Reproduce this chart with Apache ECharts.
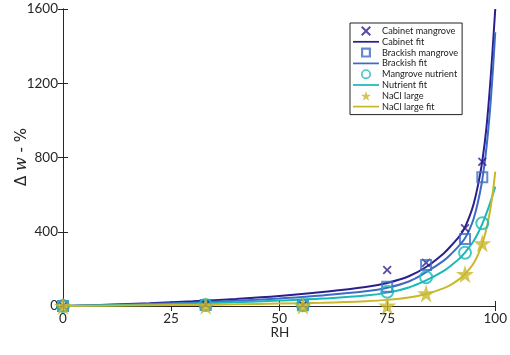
<!DOCTYPE html>
<html>
<head>
<meta charset="utf-8">
<script src="https://cdn.jsdelivr.net/npm/echarts@6/dist/echarts.min.js"></script>
<style>
  html, body { margin: 0; padding: 0; background: #fff; }
  #chart { width: 510px; height: 355px; }
</style>
</head>
<body>
<div id="chart"></div>
<script>
  // measured points
  const rhPoints = [0, 33, 55.5, 75, 84, 93, 97];
  const cabinetPts = [0, 8, 5, 194, 233, 419, 777];
  const brackishPts = [0, 6, 4, 104, 221, 361, 693];
  const nutrientPts = [0, 5, 4, 77, 155, 287, 446];
  const naclPts = [0, 2, 2, 2, 68, 172, 338];

  // fit curves
  const rhFit = [0, 10, 20, 30, 40, 50, 60, 70, 75, 80, 84, 88, 90, 92, 93, 94, 95, 96, 97, 98, 99, 100];
  const cabinetFit = [0, 7, 15, 25, 38, 54, 75, 102, 124, 160, 210, 282, 330, 385, 425, 480, 550, 650, 780, 970, 1250, 1600];
  const brackishFit = [0, 5, 11, 18, 28, 41, 57, 79, 98, 132, 182, 243, 285, 335, 365, 410, 470, 560, 680, 860, 1120, 1475];
  const nutrientFit = [0, 4, 8, 13, 20, 29, 40, 56, 72, 100, 138, 188, 222, 262, 288, 318, 350, 392, 443, 502, 568, 643];
  const naclFit = [0, 2, 4, 6, 9, 13, 18, 26, 33, 46, 65, 95, 118, 150, 172, 198, 230, 275, 335, 420, 540, 724];

  const xTicks = [0, 25, 50, 75, 100];
  const yTicks = [0, 400, 800, 1200, 1600];

  const colors = {
    cabinet: "#2b1f8f",
    brackish: "#3e6cc4",
    nutrient: "#1cb8b8",
    nacl: "#c8b82a",
  };

  const crossPath = "path://M0,1.4 L1.4,0 L5,3.6 L8.6,0 L10,1.4 L6.4,5 L10,8.6 L8.6,10 L5,6.4 L1.4,10 L0,8.6 L3.6,5 Z";
  const starPath = "path://M50,0 L61,35 L98,35 L68,57 L79,91 L50,70 L21,91 L32,57 L2,35 L39,35 Z";
  const hollowSquare = "path://M0,0 L10,0 L10,10 L0,10 Z M2.2,2.2 L2.2,7.8 L7.8,7.8 L7.8,2.2 Z";
  const hollowCircle = "path://M0,6 A6,6 0 1,1 12,6 A6,6 0 1,1 0,6 Z M2,6 A4,4 0 1,0 10,6 A4,4 0 1,0 2,6 Z";
  const lineIcon = "path://M0,0 L30,0 L30,2 L0,2 Z";

  const pair = (xs, ys) => xs.map((x, i) => [x, ys[i]]);

  const marks = (name, ys, symbol, size, color, hollow) => ({
    name,
    type: "scatter",
    data: pair(rhPoints, ys),
    symbol,
    symbolSize: size,
    itemStyle: hollow
      ? { color: "rgba(0,0,0,0)", borderColor: color, borderWidth: 2 }
      : { color },
    z: 3,
  });

  const fit = (name, ys, color) => ({
    name,
    type: "line",
    data: pair(rhFit, ys),
    symbol: "none",
    smooth: 0.4,
    lineStyle: { color, width: 2 },
    itemStyle: { color },
    clip: true,
    z: 2,
  });

  const legendItem = (name, icon, color) => ({
    name,
    icon,
    itemStyle: { color, borderWidth: 0 },
  });

  const chart = echarts.init(document.getElementById("chart"));

  const axisLine = { show: true, lineStyle: { color: "#262626", width: 1 } };
  const tick = { inside: true, length: 5, lineStyle: { color: "#262626" } };

  const option = {
    animation: false,
    textStyle: { fontFamily: "Lato, Noto Sans, sans-serif" },
    grid: { left: 63, right: 14, top: 9, bottom: 49 },
    // axis titles placed by hand so they sit where MATLAB put them
    graphic: [
      {
        type: "text",
        x: 22,
        y: 157,
        rotation: Math.PI / 2,
        style: {
          text: "{a|Δ }{b|w}{a| - %}",
          align: "center",
          verticalAlign: "middle",
          rich: {
            a: { fontSize: 15, fill: "#262626", fontFamily: "DejaVu Sans, sans-serif" },
            b: { fontSize: 16, fill: "#262626", fontStyle: "italic", fontFamily: "DejaVu Serif, serif" },
          },
        },
      },
      {
        type: "text",
        x: 280,
        y: 333,
        style: {
          text: "RH",
          align: "center",
          verticalAlign: "middle",
          fontSize: 13.5,
          fill: "#262626",
          fontFamily: "Lato, Noto Sans, sans-serif",
        },
      },
    ],
    legend: {
      orient: "vertical",
      left: 350,
      top: 23,
      itemWidth: 26,
      itemHeight: 10,
      itemGap: 0.8,
      padding: [3, 4, 3, 3],
      borderColor: "#222",
      borderWidth: 1,
      backgroundColor: "#fff",
      textStyle: { fontSize: 9.2, lineHeight: 10, color: "#222", padding: [0, 0, 0, -2] },
      data: [
        legendItem("Cabinet mangrove", crossPath, colors.cabinet),
        legendItem("Cabinet fit", lineIcon, colors.cabinet),
        legendItem("Brackish mangrove", hollowSquare, colors.brackish),
        legendItem("Brackish fit", lineIcon, colors.brackish),
        legendItem("Mangrove nutrient", hollowCircle, colors.nutrient),
        legendItem("Nutrient fit", lineIcon, colors.nutrient),
        legendItem("NaCl large", starPath, colors.nacl),
        legendItem("NaCl large fit", lineIcon, colors.nacl),
      ],
    },
    xAxis: [
      {
        type: "value",
        min: 0,
        max: 100,
        interval: 25,
        axisLine,
        axisTick: tick,
        axisLabel: {
          fontSize: 13.5,
          color: "#262626",
          margin: 6,
          customValues: xTicks,
        },
        splitLine: { show: false },
      },
      {
        type: "value",
        position: "top",
        min: 0,
        max: 100,
        interval: 25,
        axisLine,
        axisTick: tick,
        axisLabel: { show: false },
        splitLine: { show: false },
      },
    ],
    yAxis: [
      {
        type: "value",
        min: 0,
        max: 1600,
        interval: 400,
        axisLine,
        axisTick: tick,
        axisLabel: {
          fontSize: 13.5,
          color: "#262626",
          margin: 5,
          customValues: yTicks,
          formatter: (v) => String(v),
        },
        splitLine: { show: false },
      },
      {
        type: "value",
        position: "right",
        min: 0,
        max: 1600,
        interval: 400,
        axisLine,
        axisTick: tick,
        axisLabel: { show: false },
        splitLine: { show: false },
      },
    ],
    series: [
      marks("Cabinet mangrove", cabinetPts, crossPath, 9, colors.cabinet, false),
      fit("Cabinet fit", cabinetFit, colors.cabinet),
      marks("Brackish mangrove", brackishPts, "rect", 10, colors.brackish, true),
      fit("Brackish fit", brackishFit, colors.brackish),
      marks("Mangrove nutrient", nutrientPts, "circle", 12, colors.nutrient, true),
      fit("Nutrient fit", nutrientFit, colors.nutrient),
      marks("NaCl large", naclPts, starPath, 18, colors.nacl, false),
      fit("NaCl large fit", naclFit, colors.nacl),
    ],
  };

  chart.setOption(option);
</script>
</body>
</html>
